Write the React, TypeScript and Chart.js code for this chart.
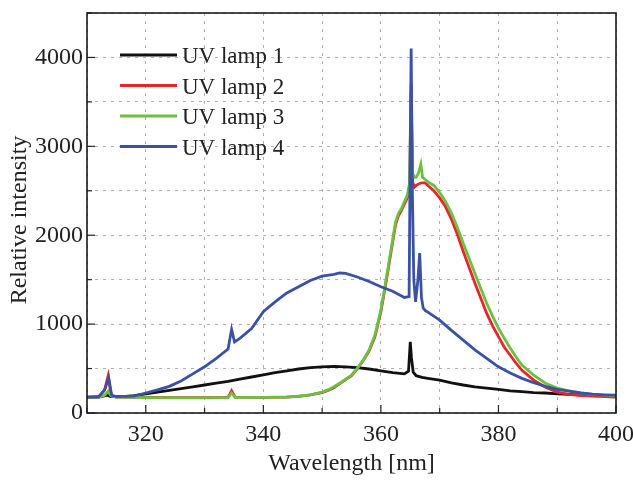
import React, { useEffect, useRef } from "react";
import { Chart, registerables } from "chart.js";

Chart.register(...registerables);

const seriesNames = ["UV lamp 1", "UV lamp 2", "UV lamp 3", "UV lamp 4"];
const seriesColors = ["#111111", "#e8262a", "#6cc040", "#3a51a6"];

const xTickLabels = [320, 340, 360, 380, 400];
const yTickLabels = [0, 1000, 2000, 3000, 4000];

const lamp1X = [310, 312, 313.5, 314, 316, 318, 320, 322, 324, 326, 328, 330, 332, 334, 336, 338, 340, 342, 344, 346, 348, 350, 352, 354, 356, 358, 360, 362, 364, 364.7, 365.0, 365.2, 365.5, 366, 367, 368, 370, 372, 374, 376, 378, 380, 382, 384, 386, 388, 390, 392, 394, 396, 398, 400];
const lamp1Y = [175, 180, 200, 185, 185, 195, 215, 235, 255, 275, 295, 315, 335, 355, 380, 405, 430, 455, 475, 495, 510, 520, 525, 520, 510, 495, 475, 455, 440, 470, 800, 620, 460, 420, 400, 390, 370, 340, 315, 295, 280, 265, 250, 240, 230, 225, 215, 210, 205, 200, 195, 190];

const lamp2X = [310, 312, 313, 313.6, 314.1, 315, 320, 325, 330, 334, 334.6, 335.2, 340, 344, 346, 348, 350, 351, 352, 353, 354, 355, 356, 357, 358, 359, 360, 360.5, 361, 361.5, 362, 362.5, 363, 363.5, 364, 364.5, 364.9, 365.15, 365.4, 365.7, 366, 366.5, 367, 367.5, 368, 369, 370, 371, 372, 373, 374, 375, 376, 377, 378, 379, 380, 381, 382, 383, 384, 386, 388, 390, 392, 394, 396, 398, 400];
const lamp2Y = [175, 180, 260, 420, 200, 180, 175, 172, 172, 175, 250, 178, 175, 178, 188, 203, 230, 255, 285, 330, 375, 420, 500, 590, 700, 860, 1140, 1330, 1520, 1720, 1920, 2120, 2220, 2280, 2350, 2420, 2550, 3700, 2600, 2540, 2560, 2580, 2590, 2590, 2560, 2500, 2420, 2320, 2180, 2010, 1820, 1640, 1460, 1290, 1120, 980, 860, 740, 650, 560, 480, 370, 290, 235, 210, 195, 190, 185, 180];

const lamp3X = [310, 312, 313, 313.6, 314.1, 315, 320, 325, 330, 334, 334.6, 335.2, 340, 344, 346, 348, 350, 351, 352, 353, 354, 355, 356, 357, 358, 359, 360, 360.5, 361, 361.5, 362, 362.5, 363, 363.5, 364, 364.5, 364.9, 365.1, 365.4, 365.7, 366, 366.4, 366.8, 367.1, 367.5, 368, 369, 370, 371, 372, 373, 374, 375, 376, 377, 378, 379, 380, 381, 382, 383, 384, 386, 388, 390, 392, 394, 396, 398, 400];
const lamp3Y = [175, 178, 200, 245, 190, 178, 172, 170, 170, 172, 225, 175, 175, 180, 190, 205, 235, 260, 295, 335, 380, 425, 505, 595, 710, 880, 1160, 1350, 1550, 1750, 1950, 2150, 2250, 2300, 2380, 2450, 2600, 3600, 2700, 2650, 2650, 2700, 2800, 2650, 2630, 2600, 2560, 2480, 2380, 2250, 2090, 1910, 1740, 1570, 1400, 1235, 1090, 955, 840, 730, 630, 540, 425, 335, 280, 250, 225, 210, 200, 195];

const lamp4X = [310, 312, 313, 313.7, 314.2, 315, 318, 320, 322, 324, 326, 328, 330, 332, 334, 334.6, 335.1, 336, 338, 340, 342, 344, 346, 348, 350, 352, 353, 354, 356, 358, 360, 362, 364, 364.8, 365.0, 365.15, 365.35, 365.6, 365.9, 366.3, 366.6, 366.9, 367.2, 367.6, 368, 370, 372, 374, 376, 378, 380, 382, 384, 386, 388, 390, 392, 394, 396, 398, 400];
const lamp4Y = [180, 185, 260, 390, 200, 185, 190, 225, 260, 300, 360, 440, 520, 615, 720, 940, 800, 840, 950, 1140, 1250, 1350, 1420, 1490, 1540, 1560, 1575, 1570, 1530, 1480, 1420, 1370, 1300, 1310, 3000, 4100, 2500, 1500, 1250, 1500, 1800, 1300, 1180, 1150, 1135, 1045, 930, 820, 710, 615, 520, 450, 390, 340, 300, 265, 245, 225, 212, 205, 200];

const seriesX = [lamp1X, lamp2X, lamp3X, lamp4X];
const seriesY = [lamp1Y, lamp2Y, lamp3Y, lamp4Y];

const FONT = "'Liberation Serif', 'Times New Roman', serif";

const decorPlugin = {
  id: "decor",
  afterDatasetsDraw(chart: any) {
    const ctx = chart.ctx;
    const area = chart.chartArea;
    const xs = chart.scales.x;
    const ys = chart.scales.y;
    ctx.save();
    ctx.strokeStyle = "#222";
    ctx.lineWidth = 1.2;
    for (let v = 0; v <= 4500; v += 500) {
      const y = ys.getPixelForValue(v);
      const len = v % 1000 === 0 ? 8 : 5;
      ctx.beginPath();
      ctx.moveTo(area.left, y);
      ctx.lineTo(area.left + len, y);
      ctx.stroke();
    }
    for (let v = 310; v <= 400; v += 10) {
      const x = xs.getPixelForValue(v);
      const len = xTickLabels.indexOf(v) >= 0 ? 8 : 5;
      ctx.beginPath();
      ctx.moveTo(x, area.bottom);
      ctx.lineTo(x, area.bottom - len);
      ctx.stroke();
    }
    ctx.lineWidth = 1.6;
    ctx.strokeStyle = "#1a1a1a";
    ctx.strokeRect(area.left, area.top, area.right - area.left, area.bottom - area.top);
    const rowY = [55, 85.5, 116, 146.5];
    ctx.font = `23px ${FONT}`;
    ctx.textAlign = "left";
    ctx.textBaseline = "alphabetic";
    for (let i = 0; i < seriesNames.length; i++) {
      ctx.strokeStyle = seriesColors[i];
      ctx.lineWidth = 3;
      ctx.beginPath();
      ctx.moveTo(120, rowY[i]);
      ctx.lineTo(177, rowY[i]);
      ctx.stroke();
      ctx.fillStyle = "#222";
      ctx.fillText(seriesNames[i], 182, rowY[i] + 8);
    }
    ctx.font = `24px ${FONT}`;
    ctx.fillStyle = "#222";
    ctx.textAlign = "center";
    ctx.textBaseline = "alphabetic";
    ctx.fillText("Wavelength [nm]", (area.left + area.right) / 2, 470);
    ctx.translate(26, 220);
    ctx.rotate(-Math.PI / 2);
    ctx.fillText("Relative intensity", 0, 0);
    ctx.restore();
  },
};

export default function App() {
  const ref = useRef<HTMLCanvasElement | null>(null);
  useEffect(() => {
    if (!ref.current) return;
    const order = [3, 2, 1, 0];
    const datasets = seriesNames.map((name, i) => ({
      label: name,
      data: seriesX[i].map((x, j) => ({ x, y: seriesY[i][j] })),
      borderColor: seriesColors[i],
      backgroundColor: seriesColors[i],
      borderWidth: 2.8,
      pointRadius: 0,
      tension: 0,
      order: order[i],
    }));
    const chart = new Chart(ref.current, {
      type: "line",
      data: { datasets },
      plugins: [decorPlugin],
      options: {
        animation: false,
        responsive: true,
        maintainAspectRatio: false,
        layout: { autoPadding: false, padding: { top: 13, right: 17, left: 0, bottom: 0 } },
        plugins: { legend: { display: false }, tooltip: { enabled: false } },
        scales: {
          x: {
            type: "linear",
            min: 310,
            max: 400,
            afterFit: (s: any) => { s.height = 67; s.paddingLeft = 0; s.paddingRight = 0; },
            ticks: {
              stepSize: 10,
              autoSkip: false,
              maxRotation: 0,
              padding: 7,
              color: "#222",
              font: { family: FONT, size: 24 },
              callback: (v: any) => (xTickLabels.indexOf(Number(v)) >= 0 ? String(v) : ""),
            },
            grid: { color: "#b0b0b0", lineWidth: 1, drawTicks: false },
            border: { display: false, dash: [3, 5] },
          },
          y: {
            min: 0,
            max: 4500,
            afterFit: (s: any) => { s.width = 87; s.paddingTop = 0; s.paddingBottom = 0; },
            ticks: {
              stepSize: 500,
              autoSkip: false,
              padding: 4,
              color: "#222",
              font: { family: FONT, size: 24 },
              callback: (v: any) => (yTickLabels.indexOf(Number(v)) >= 0 ? String(v) : ""),
            },
            grid: { color: "#b0b0b0", lineWidth: 1, drawTicks: false },
            border: { display: false, dash: [3, 5] },
          },
        },
      },
    });
    return () => chart.destroy();
  }, []);
  return (
    <div style={{ position: "absolute", left: 0, top: 0, width: 633, height: 480, background: "#fff" }}>
      <canvas ref={ref} />
    </div>
  );
}
